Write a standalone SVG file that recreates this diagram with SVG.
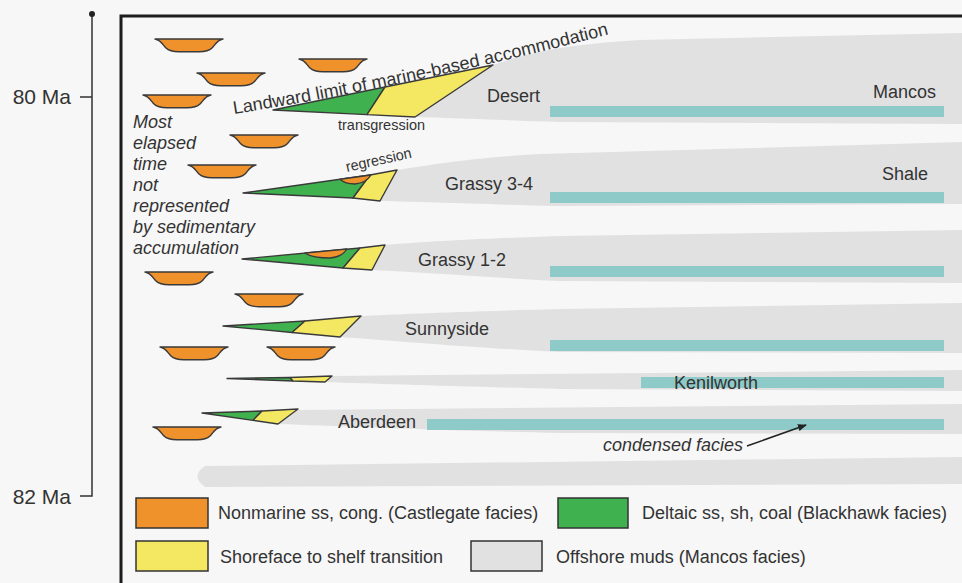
<svg xmlns="http://www.w3.org/2000/svg" xmlns:xlink="http://www.w3.org/1999/xlink" width="962" height="583" viewBox="0 0 962 583">
  <style>
    text { font-family: "Liberation Sans", Arial, sans-serif; fill: #333; }
    .lbl { font-size: 18px; }
    .it { font-size: 18px; font-style: italic; }
    .leg { font-size: 18px; }
    .age { font-size: 21px; }
    .small { font-size: 15px; }
    .mud { fill: #e1e1e1; }
    .cond { fill: #8ecac7; }
    .ss { stroke: #3a3a3a; stroke-width: 1.4; stroke-linejoin: round; }
    .delta { fill: #3fb24f; }
    .shore { fill: #f4e863; }
    .nonmar { fill: #f0922b; }
    .axis { stroke: #333; stroke-width: 1.5; fill: none; }
    .frame { stroke: #1c1c1c; stroke-width: 3; fill: none; }
    .box { stroke: #333; stroke-width: 1.5; }
  </style>
  <defs>
    <!-- fluvial channel lens -->
    <path id="bowl" d="M0,0 H68 C62,1 60,6 57,9 C54,12 50,12.7 44,12.7 H24 C18,12.7 14,12 11,9 C8,6 6,1 0,0 Z"/>
    <marker id="arr" viewBox="0 0 10 10" refX="9" refY="5" markerWidth="9" markerHeight="9" orient="auto" markerUnits="userSpaceOnUse">
      <path d="M0,1 L10,5 L0,9 Z" fill="#222"/>
    </marker>
    <!-- baseline of the accommodation-limit label -->
    <path id="limit" d="M234,114 Q420,84 614,33"/>
  </defs>

  <rect width="962" height="583" fill="#f7f7f7"/>

  <!-- time scale -->
  <g id="timescale">
    <path class="axis" d="M92,14 V496 H80 M80,97 H92"/>
    <circle cx="92" cy="14" r="3" fill="#222"/>
    <text class="age" x="71" y="104" text-anchor="end">80 Ma</text>
    <text class="age" x="71" y="504" text-anchor="end">82 Ma</text>
  </g>

  <!-- offshore mud tongues -->
  <g id="muds">
    <path class="mud" d="M493,65 C530,52 570,44 640,40 L962,33 V124 L560,122 C500,120 450,118 415,117 Z"/>
    <path class="mud" d="M397,170 C430,165 470,158 540,154 L962,142 V204 L560,206 C480,204 420,202 380,201 Z"/>
    <path class="mud" d="M385,245 C420,242 470,239 560,236 L962,230 V283 L560,281 C480,277 420,272 372,270 Z"/>
    <path class="mud" d="M361,316 C400,314 450,312 560,309 L962,303 V353 L560,352 C460,347 400,341 340,337 Z"/>
    <path class="mud" d="M332,376 L962,370 V391 L560,389 C450,386 380,384 325,382 Z"/>
    <path class="mud" d="M298,410 L962,404 V434 L560,433 C420,430 340,426 278,424 Z"/>
    <path class="mud" d="M205,466 L962,457 V484 L205,487 Q190,476 205,466 Z"/>
  </g>

  <!-- condensed facies bars -->
  <g id="condensed">
    <rect class="cond" x="550" y="106" width="394" height="11"/>
    <rect class="cond" x="550" y="192" width="394" height="11"/>
    <rect class="cond" x="550" y="266" width="394" height="11"/>
    <rect class="cond" x="550" y="340" width="394" height="11"/>
    <rect class="cond" x="641" y="377" width="303" height="11"/>
    <rect class="cond" x="427" y="419" width="517" height="11"/>
  </g>

  <!-- channel lenses -->
  <g id="channels" class="nonmar ss">
    <use xlink:href="#bowl" x="155" y="39"/>
    <use xlink:href="#bowl" x="299" y="59"/>
    <use xlink:href="#bowl" x="197" y="73"/>
    <use xlink:href="#bowl" x="143" y="95"/>
    <use xlink:href="#bowl" x="230" y="135"/>
    <use xlink:href="#bowl" x="188" y="165"/>
    <use xlink:href="#bowl" x="145" y="272"/>
    <use xlink:href="#bowl" x="235" y="294"/>
    <use xlink:href="#bowl" x="160" y="347"/>
    <use xlink:href="#bowl" x="267" y="347"/>
    <use xlink:href="#bowl" x="153" y="427"/>
  </g>

  <!-- Desert -->
  <g id="desert">
    <polygon class="delta ss" points="273,110 385,87 367,114.6"/>
    <polygon class="shore ss" points="385,87 493,65 415,117 367,114.6"/>
    <text class="lbl" x="487" y="102">Desert</text>
    <text class="lbl" x="873" y="98">Mancos</text>
    <text class="small" x="338" y="130" textLength="87" lengthAdjust="spacingAndGlyphs">transgression</text>
  </g>

  <!-- Grassy 3-4 -->
  <g id="grassy34">
    <polygon class="delta ss" points="243,193 370,175 353,198"/>
    <polygon class="shore ss" points="370,175 397,170 380,201 353,198"/>
    <path class="nonmar ss" d="M340,179.3 L371,175 Q366,183 355,184 Q345,184 340,179.3 Z"/>
    <text class="small" transform="translate(347,172) rotate(-12.5)" textLength="67" lengthAdjust="spacingAndGlyphs">regression</text>
    <text class="lbl" x="445" y="190">Grassy 3-4</text>
    <text class="lbl" x="882" y="180">Shale</text>
  </g>

  <!-- Grassy 1-2 -->
  <g id="grassy12">
    <polygon class="delta ss" points="242,259 360,248 343,268"/>
    <polygon class="shore ss" points="360,248 385,245 372,270 343,268"/>
    <path class="nonmar ss" d="M305,253 L347,249 Q342,257 330,258 Q312,258 305,253 Z"/>
    <text class="lbl" x="418" y="266">Grassy 1-2</text>
  </g>

  <!-- Sunnyside -->
  <g id="sunnyside">
    <polygon class="delta ss" points="223,326 305,321 292,332.5"/>
    <polygon class="shore ss" points="305,321 361,316 340,337 292,332.5"/>
    <text class="lbl" x="405" y="335">Sunnyside</text>
  </g>

  <!-- Kenilworth -->
  <g id="kenilworth">
    <polygon class="delta ss" points="227,378.5 290,377.5 293,381"/>
    <polygon class="shore ss" points="290,377.5 332,376 325,382 293,381"/>
    <text class="lbl" x="674" y="389">Kenilworth</text>
  </g>

  <!-- Aberdeen -->
  <g id="aberdeen">
    <polygon class="delta ss" points="202,413 262,411 253,420.4"/>
    <polygon class="shore ss" points="262,411 298,409 278,424 253,420.4"/>
    <text class="lbl" x="338" y="428">Aberdeen</text>
  </g>

  <!-- annotations -->
  <g id="notes">
    <text class="lbl"><textPath xlink:href="#limit">Landward limit of marine-based accommodation</textPath></text>
    <text class="it" x="133">
      <tspan x="133" y="128">Most</tspan>
      <tspan x="133" y="149">elapsed</tspan>
      <tspan x="133" y="170">time</tspan>
      <tspan x="133" y="191">not</tspan>
      <tspan x="133" y="212">represented</tspan>
      <tspan x="133" y="233">by sedimentary</tspan>
      <tspan x="133" y="254">accumulation</tspan>
    </text>
    <text class="it" x="603" y="451">condensed facies</text>
  </g>

  <g id="connectors">
    <line x1="747" y1="446" x2="806" y2="425" stroke="#222" stroke-width="1.5" marker-end="url(#arr)"/>
  </g>

  <!-- frame -->
  <path class="frame" d="M121,583 V16 H962"/>

  <!-- legend -->
  <g id="legend">
    <rect class="box nonmar" x="136" y="498" width="72" height="30"/>
    <text class="leg" x="218" y="519">Nonmarine ss, cong. (Castlegate facies)</text>
    <rect class="box delta" x="558" y="498" width="70" height="30"/>
    <text class="leg" x="642" y="519">Deltaic ss, sh, coal (Blackhawk facies)</text>
    <rect class="box shore" x="136" y="541" width="72" height="30"/>
    <text class="leg" x="220" y="563">Shoreface to shelf transition</text>
    <rect class="box mud" x="471" y="541" width="71" height="30"/>
    <text class="leg" x="556" y="563">Offshore muds (Mancos facies)</text>
  </g>
</svg>
